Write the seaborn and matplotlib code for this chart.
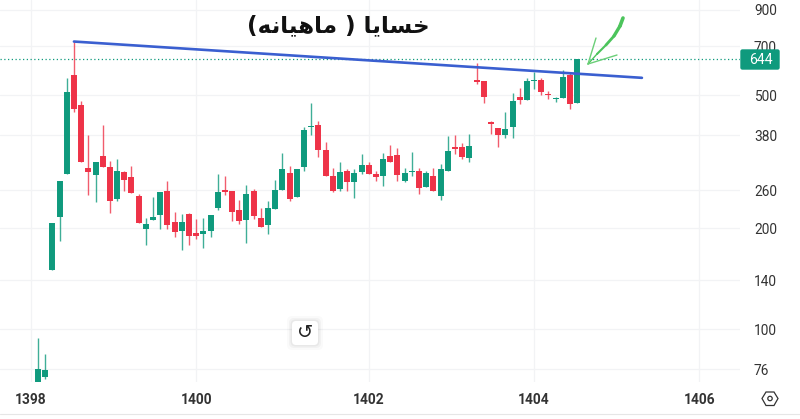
import numpy as np
import pandas as pd
import seaborn as sns
import matplotlib
matplotlib.use("Agg")
import matplotlib.pyplot as plt
from matplotlib.patches import FancyBboxPatch, Polygon, Circle
from matplotlib.transforms import Affine2D

# Monthly candles (prices)
highs = [94.1,84.3,207,277,564,724,481,381,315,408,318,323,298,308,254,215,248,257,278,224,221,223,213,215,220,290,287,259,243,269,263,230,241,279,336,307,301,403,474,418,362,304,315,302,301,333,315,296,337,355,349,304,339,303,297,303,312,378,380,360,384,624,552,420,400,446,508,525,565,589,565,516,493,595,589,644]
body_tops = [76.0,75.5,207,277,513,575,468,304,315,329,305,298,295,285,250,206,217,257,258,209,209,221,194,197,220,257,261,259,227,254,258,215,230,260,301,293,301,395,405,408,344,286,294,298,292,310,309,291,322,329,332,293,298,297,293,287,301,340,350,350,353,557,552,415,400,396,481,493,552,557,556,505,492,567,575,644]
body_bottoms = [69.7,72.1,150,216,291,455,315,294,289,305,242,245,280,256,208,199,212,219,205,195,196,190,190,193,197,230,257,224,210,212,218,202,205,229,261,245,249,305,401,344,286,258,262,276,275,294,291,285,286,316,288,277,294,264,266,258,250,297,346,327,325,548,493,410,381,381,401,483,485,552,512,500,489,490,472,475]
lows = [69.7,71.0,150,184,291,446,315,252,240,305,223,241,259,256,208,179,212,199,199,188,172,178,186,175,189,227,251,211,206,181,214,202,192,229,261,241,249,298,381,328,286,257,259,259,246,291,290,277,268,316,278,275,287,253,266,258,244,297,334,322,317,541,473,383,350,372,372,470,485,521,501,487,477,490,455,475]
directions = list("gggggrrrgrrgrrrgggrrgrrgggrrrgrrgggrgggrrrgrggrrgrrggrgrggrrgrrrrggrggrrggrg")

price_ticks = [76, 100, 140, 200, 260, 380, 500, 700, 900]
year_positions = [-1, 22, 46, 69, 92]
year_labels = ["1398", "1400", "1402", "1404", "1406"]
last_price = 644
trend_x = [5, 84]
trend_y = [724, 564]

GREEN, RED, BLUE = "#0f9a7d", "#ee3348", "#3a5fd0"
INK, GRID = "#333333", "#f2f3f5"

sns.set_theme(style="white")
plt.rcParams["font.family"] = ["Roboto", "DejaVu Sans"]

n = len(highs)
idx = np.arange(n)
wicks = pd.DataFrame({
    "candle": np.r_[idx, idx], "price": highs + lows, "dir": directions * 2})
bodies = pd.DataFrame({
    "candle": np.r_[idx, idx], "price": body_tops + body_bottoms, "dir": directions * 2})
palette = {"g": GREEN, "r": RED}

W, H = 800, 419
fig = plt.figure(figsize=(W / 100, H / 100), dpi=100, facecolor="white")
ax = fig.add_axes([0, (H - 382) / H, 740 / W, 382 / H])
ax.set_yscale("log")
ax.set_xlim(-5.285, 97.64)
ax.set_ylim(69.5, 963.7)

for args in [(wicks, 1.0, 0.8), (bodies, 4.3, 1.0)]:
    sns.lineplot(data=args[0], x="candle", y="price", hue="dir", units="candle",
                 estimator=None, sort=False, palette=palette, legend=False, ax=ax,
                 linewidth=args[1], alpha=args[2], solid_capstyle="butt", zorder=3)

sns.lineplot(x=trend_x, y=trend_y, color=BLUE, linewidth=1.9, ax=ax, zorder=5,
             estimator=None, solid_capstyle="round")
ax.axhline(last_price, color=GREEN, lw=0.9, ls=(0, (1, 2)), zorder=2)

ax.set_yticks(price_ticks, [str(p) for p in price_ticks])
ax.set_xticks(year_positions, year_labels)
ax.minorticks_off()
ax.yaxis.tick_right()
ax.tick_params(axis="y", length=0, pad=10, labelsize=9.9, labelcolor=INK)
ax.tick_params(axis="x", length=0, pad=8, labelsize=9.9, labelcolor=INK)
for lab in ax.get_xticklabels():
    lab.set_fontweight("bold")
ax.grid(True, color=GRID, lw=0.9, zorder=0)
ax.set_axisbelow(True)
ax.set_xlabel("")
ax.set_ylabel("")
for s in ax.spines.values():
    s.set_visible(False)

# Overlay furniture placed in figure pixels (y measured from the top)
px = Affine2D().scale(1, -1).translate(0, H)

# Title: presentation forms in visual order, since matplotlib does not shape Arabic
title = ("(\uFEEA\uFEE7\uFE8E\uFEF4\uFEEB\uFE8E\uFEE3 ) "
         "\uFE8E\uFEF3\uFE8E\uFEB4\uFEA7")
fig.text(338, 26, title, transform=px, ha="center", va="center", fontsize=16.6,
         fontweight="bold", color="#111111", family="DejaVu Sans", zorder=10)

# Last price tag
fig.add_artist(FancyBboxPatch((741, 50), 38, 19, boxstyle="round,pad=0,rounding_size=1.5",
                              transform=px, fc=GREEN, ec=GREEN, lw=1, zorder=8))
fig.text(761, 60, str(last_price), transform=px, ha="center", va="center",
         fontsize=10.2, color="white", zorder=9)

# Hand-drawn arrow
stroke = [(623, 18), (620, 26), (614, 36), (606, 45), (597, 54), (588, 64)]
widths = [2.6, 2.4, 2.0, 1.5, 1.0]
for (p0, p1, lw) in zip(stroke[:-1], stroke[1:], widths):
    fig.add_artist(plt.Line2D([p0[0], p1[0]], [p0[1], p1[1]], transform=px,
                              color="#4cc45c", lw=lw, solid_capstyle="round", zorder=9))
for tip in [(596, 38), (617, 55)]:
    fig.add_artist(plt.Line2D([tip[0], 588], [tip[1], 64], transform=px,
                              color="#6bcf78", lw=1.0, zorder=9))

# Reset button
for grow, alpha in [(5, .02), (3, .03), (1.5, .04)]:
    fig.add_artist(FancyBboxPatch((292 - grow, 321 - grow), 26 + 2 * grow, 24 + 2 * grow,
                                  boxstyle="round,pad=0,rounding_size=5", transform=px,
                                  fc="black", ec="none", alpha=alpha, zorder=6))
fig.add_artist(FancyBboxPatch((292, 321), 26, 24, boxstyle="round,pad=0,rounding_size=4",
                              transform=px, fc="white", ec="none", zorder=7))
fig.text(305, 332, "\u21BA", transform=px, ha="center", va="center", fontsize=14,
         color="#222222", family="DejaVu Sans", zorder=8)

# Settings hexagon
hexagon = [(762, 398.5), (766, 392), (774, 392), (778, 398.5), (774, 405.5), (766, 405.5)]
fig.add_artist(Polygon(hexagon, closed=True, transform=px, fc="none", ec="#333333", lw=0.9, zorder=8))
fig.add_artist(Circle((770, 398.5), 2.2, transform=px, fc="none", ec="#333333", lw=0.9, zorder=8))

# Bottom rule
fig.add_artist(plt.Line2D([0, W], [414, 414], transform=px, color="#e6e6e6", lw=0.8, zorder=1))

fig.savefig("out.png", dpi=100, facecolor="white")
